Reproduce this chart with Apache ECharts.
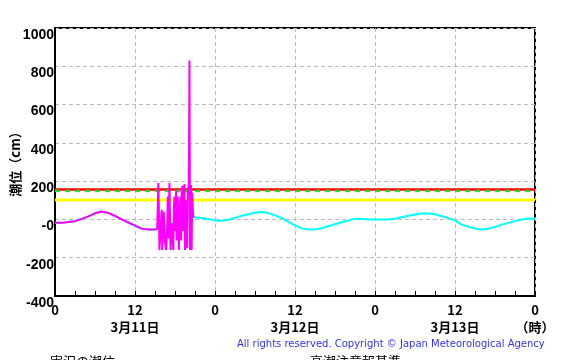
<!DOCTYPE html>
<html>
<head>
<meta charset="utf-8">
<script src="https://cdn.jsdelivr.net/npm/echarts@6/dist/echarts.min.js"></script>
<style>html,body{margin:0;padding:0;background:#fff;}#c{width:564px;height:360px;}</style>
</head>
<body>
<div id="c"></div>
<script>
// Astronomical (predicted) tide, hourly, hours 0..72 (cm)
const predHours = [0,1,2,3,4,5,6,7,8,9,10,11,12,13,14,15,16,17,18,19,20,21,22,23,24,25,26,27,28,29,30,31,32,33,34,35,36,37,38,39,40,41,42,43,44,45,46,47,48,49,50,51,52,53,54,55,56,57,58,59,60,61,62,63,64,65,66,67,68,69,70,71,72];
const predValues = [-18,-18,-14,-9,3,16,32,41,34,18,0,-16,-32,-48,-53,-53,-43,-30,-16,-4,9,11,7,2,-5,-7,-2,8,19,27,35,39,33,21,7,-11,-31,-47,-52,-51,-46,-36,-25,-15,-6,4,2,0,0,0,0,4,11,19,26,31,31,27,17,7,-5,-27,-38,-48,-53,-47,-40,-27,-18,-9,0,4,5];
// Observed tide (cm)
const obsHours = [0,1,2,3,4,5,6,7,8,9,10,11,12,13,14,15,15.33,15.5,15.58,15.67,15.83,16.0,16.08,16.25,16.33,16.5,16.67,16.83,16.92,17.0,17.17,17.25,17.33,17.5,17.58,17.75,17.83,17.92,18.0,18.17,18.25,18.42,18.58,18.67,18.83,18.92,19.0,19.17,19.25,19.42,19.5,19.67,19.83,19.92,20.08,20.17,20.25,20.33,20.42,20.5,20.58,20.67,20.75];
const obsValues = [-18,-18,-14,-9,3,16,32,41,34,18,0,-16,-32,-48,-53,-53,-48,190,60,-160,-60,50,-160,-40,40,-120,-160,-40,120,-100,190,190,-160,-20,-80,-160,60,120,-60,150,-110,120,-160,30,120,-110,160,175,-60,185,-160,100,-150,140,190,830,-160,150,180,-160,140,60,10];
// Thresholds (cm)
const redLevel = 156;
const greenLevel = 149;
const yellowLevel = 101;
// Tick labels
const xTickHours = [0,12,24,36,48,60,72];
const xTickLabels = ['0','12','0','12','0','12','0'];
const xDateLabels = ['','3月11日','','3月12日','','3月13日','（時）'];
const yTickValues = [-400,-200,0,200,400,600,800,1000];
const yTickLabels = ['-400','-200','-0','200','400','600','800','1000'];
const yTitle = '潮位（cm）';

const chart = echarts.init(document.getElementById('c'), null, {renderer:'canvas'});
const zip = (a,b) => a.map((v,i)=>[v,b[i]]);
const hline = (v) => [[0,v],[72,v]];
const numFont = 'Liberation Sans';
const jpFont = 'Noto Sans CJK JP';
chart.setOption({
  animation:false,
  backgroundColor:'#fff',
  grid:{left:55,right:29,top:28,bottom:64,containLabel:false,outerBoundsMode:'none',show:true,borderColor:'#000',borderWidth:2,backgroundColor:'transparent'},
  xAxis:{type:'value',min:0,max:72,interval:12,
    axisLine:{show:true,onZero:false,lineStyle:{color:'#000',width:2}},
    axisTick:{show:true,inside:true,length:5,lineStyle:{color:'#000',width:1}},
    minorTick:{show:true,splitNumber:4,length:5,lineStyle:{color:'#000',width:1}},
    splitLine:{show:true,lineStyle:{color:'#bbb',type:[4,3],width:1}},
    axisLabel:{showMinLabel:true,showMaxLabel:true,margin:6,color:'#000',fontWeight:'bold',fontSize:13,fontFamily:jpFont,lineHeight:17,
      formatter:(v)=>{const i=xTickHours.indexOf(v); if(i<0) return ''; return xDateLabels[i]? xTickLabels[i]+'\n'+xDateLabels[i] : xTickLabels[i];}}
  },
  yAxis:{type:'value',min:-400,max:1000,interval:200,
    axisLine:{show:true,onZero:false,lineStyle:{color:'#000',width:2}},
    axisTick:{show:false},
    splitLine:{show:true,lineStyle:{color:'#bbb',type:[4,3],width:1}},
    axisLabel:{showMinLabel:true,showMaxLabel:true,margin:1,color:'#000',fontWeight:'bold',fontSize:14,fontFamily:numFont,verticalAlign:'top',
      formatter:(v)=>{const i=yTickValues.indexOf(v); return i<0?'':yTickLabels[i];}}
  },
  series:[
    {type:'line',data:zip(predHours,predValues),showSymbol:false,lineStyle:{color:'#00ffff',width:2},z:2},
    {type:'line',data:hline(yellowLevel),showSymbol:false,lineStyle:{color:'#ffff00',width:3},z:3},
    {type:'line',data:hline(redLevel),showSymbol:false,lineStyle:{color:'#ff0000',width:2.5},z:3},
    {type:'line',data:hline(greenLevel),showSymbol:false,lineStyle:{color:'#22dd22',width:2.5,type:[5,5]},z:4},
    {type:'line',data:zip(obsHours,obsValues),showSymbol:false,lineStyle:{color:'#ff00ff',width:2},z:5}
  ],
  graphic:[
    {type:'text',x:15,y:161,rotation:Math.PI/2,style:{text:yTitle,fill:'#000',font:'bold 13px "Noto Sans CJK JP"',align:'center',verticalAlign:'middle'}},
    {type:'text',left:237,top:339,style:{text:'All rights reserved. Copyright © Japan Meteorological Agency',fill:'#3333ee',font:'10px "DejaVu Sans"'}},
    {type:'text',left:50,top:355,style:{text:'実況の潮位',fill:'#000',font:'13px "Noto Sans CJK JP"'}},
    {type:'text',left:310,top:355,style:{text:'高潮注意報基準',fill:'#000',font:'13px "Noto Sans CJK JP"'}}
  ]
});
</script>
</body>
</html>
